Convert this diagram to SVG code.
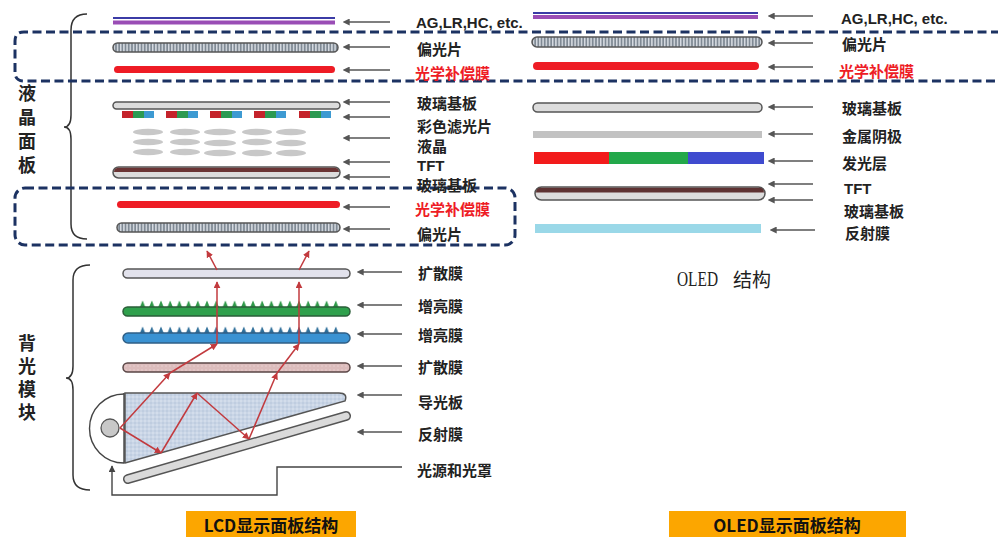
<svg xmlns="http://www.w3.org/2000/svg" width="998" height="537" viewBox="0 0 998 537">
  <style>
    .lbl { font-family: "Noto Sans CJK SC", "Liberation Sans", sans-serif; font-size: 15px; font-weight: bold; fill: #222; dominant-baseline: central; }
    .lat { font-family: "Liberation Sans", "Noto Sans CJK SC", sans-serif; font-size: 15px; font-weight: bold; fill: #222; dominant-baseline: central; }
    .red { fill: #ee1c25; }
    .side { font-family: "Noto Sans CJK SC", "Liberation Sans", sans-serif; font-size: 18px; font-weight: bold; fill: #222; writing-mode: vertical-rl; }
    .cap { font-family: "Noto Sans CJK SC", "Liberation Sans", sans-serif; font-size: 17px; font-weight: bold; fill: #111; text-anchor: middle; dominant-baseline: central; }
    .ptr { stroke: #555; stroke-width: 1.6; fill: none; marker-start: url(#head); }
    .ray { stroke: #c23a3e; stroke-width: 1.5; fill: none; marker-end: url(#rhead); }
    .dash { fill: none; stroke: #1c3262; stroke-width: 3; stroke-dasharray: 9 4.5; }
    .brace { fill: none; stroke: #333; stroke-width: 1.5; }
    .pol { fill: url(#hatch); stroke: #555; stroke-width: 1.5; }
    .redfilm { fill: #ee1c25; }
    .glass { fill: #dcdcdc; stroke: #555; stroke-width: 1.5; }
    .lc { fill: #c8c8c8; }
  </style>
  <defs>
    <marker id="head" viewBox="0 0 10 10" refX="1" refY="5" markerWidth="7" markerHeight="7" markerUnits="userSpaceOnUse" orient="auto-start-reverse">
      <path d="M0,0 L10,5 L0,10 Z" fill="#555"/>
    </marker>
    <marker id="rhead" viewBox="0 0 10 10" refX="9" refY="5" markerWidth="7" markerHeight="7" markerUnits="userSpaceOnUse" orient="auto">
      <path d="M0,0 L10,5 L0,10 Z" fill="#c23a3e"/>
    </marker>
    <marker id="khead" viewBox="0 0 10 10" refX="9" refY="5" markerWidth="7" markerHeight="7" markerUnits="userSpaceOnUse" orient="auto">
      <path d="M0,0 L10,5 L0,10 Z" fill="#444"/>
    </marker>
    <pattern id="hatch" width="3.2" height="12" patternUnits="userSpaceOnUse">
      <rect width="3.2" height="12" fill="#7f8994"/>
      <rect x="1.6" width="1.4" height="12" fill="#d8dde3"/>
    </pattern>
    <pattern id="dots" width="4" height="4" patternUnits="userSpaceOnUse">
      <rect width="4" height="4" fill="#c9d5e6"/>
      <circle cx="1" cy="1" r="0.7" fill="#e6edf6"/>
      <circle cx="3" cy="3" r="0.7" fill="#aebfd6"/>
    </pattern>
    <pattern id="pinkdots" width="4" height="4" patternUnits="userSpaceOnUse">
      <rect width="4" height="4" fill="#dcbcbc"/>
      <circle cx="2" cy="2" r="0.7" fill="#ecd6d6"/>
    </pattern>
    <pattern id="prismG" x="138" y="299" width="9.2" height="9" patternUnits="userSpaceOnUse">
      <path d="M1.5,9 L4.6,1.5 L7.7,9 Z" fill="#2e9848"/>
    </pattern>
    <pattern id="prismB" x="138" y="325" width="9.2" height="9" patternUnits="userSpaceOnUse">
      <path d="M1.5,9 L4.6,1.5 L7.7,9 Z" fill="#2f6f9a"/>
    </pattern>
  </defs>

  <rect width="998" height="537" fill="#ffffff"/>

  <!-- section brackets and titles -->
  <g id="lcd-panel-brace">
    <path class="brace" d="M87,14 Q71,14 71,30 L71,115 Q71,127 64,127 Q71,127 71,139 L71,224 Q71,239 87,239"/>
    <text class="side" x="27" y="84" letter-spacing="6">液晶面板</text>
  </g>
  <g id="backlight-brace">
    <path class="brace" d="M90,265 Q73,265 73,280 L73,366 Q73,378 66,378 Q73,378 73,390 L73,475 Q73,490 90,490"/>
    <text class="side" x="27" y="334" letter-spacing="5">背光模块</text>
  </g>

  <!-- LCD stack -->
  <g id="lcd-ag">
    <rect x="113" y="17" width="222" height="2" fill="#3b3ba6"/>
    <rect x="113" y="20.5" width="222" height="4" fill="#9a4db5"/>
  </g>
  <g id="lcd-polarizer-top"><rect class="pol" x="113" y="43" width="225" height="9" rx="4.5"/></g>
  <g id="lcd-comp-top"><rect class="redfilm" x="114" y="66" width="221" height="7" rx="3.5"/></g>
  <g id="lcd-glass-top"><rect class="glass" x="113" y="102" width="227" height="7" rx="3.5"/></g>
  <g id="lcd-color-filter">
    <rect x="122" y="111" width="11" height="7" fill="#c4232b"/><rect x="133" y="111" width="11" height="7" fill="#2c9a52"/><rect x="144" y="111" width="10" height="7" fill="#3d9ad2"/>
    <rect x="166" y="111" width="11" height="7" fill="#c4232b"/><rect x="177" y="111" width="11" height="7" fill="#2c9a52"/><rect x="188" y="111" width="10" height="7" fill="#3d9ad2"/>
    <rect x="210" y="111" width="11" height="7" fill="#c4232b"/><rect x="221" y="111" width="11" height="7" fill="#2c9a52"/><rect x="232" y="111" width="10" height="7" fill="#3d9ad2"/>
    <rect x="254" y="111" width="11" height="7" fill="#c4232b"/><rect x="265" y="111" width="11" height="7" fill="#2c9a52"/><rect x="276" y="111" width="10" height="7" fill="#3d9ad2"/>
    <rect x="299" y="111" width="11" height="7" fill="#c4232b"/><rect x="310" y="111" width="11" height="7" fill="#2c9a52"/><rect x="321" y="111" width="10" height="7" fill="#3d9ad2"/>
  </g>
  <g id="lcd-liquid-crystal">
    <ellipse class="lc" cx="148" cy="132" rx="15" ry="3.3"/><ellipse class="lc" cx="185" cy="132" rx="15" ry="3.3"/><ellipse class="lc" cx="220" cy="132" rx="16" ry="3.3"/><ellipse class="lc" cx="257" cy="132" rx="15" ry="3.3"/><ellipse class="lc" cx="291" cy="132" rx="15" ry="3.3"/>
    <ellipse class="lc" cx="148" cy="142" rx="15" ry="3.3"/><ellipse class="lc" cx="185" cy="142" rx="15" ry="3.3"/><ellipse class="lc" cx="220" cy="143" rx="16" ry="3.3"/><ellipse class="lc" cx="257" cy="142" rx="15" ry="3.3"/><ellipse class="lc" cx="291" cy="143" rx="15" ry="3.3"/>
    <ellipse class="lc" cx="148" cy="152" rx="15" ry="3.3"/><ellipse class="lc" cx="185" cy="152" rx="15" ry="3.3"/><ellipse class="lc" cx="220" cy="153" rx="16" ry="3.3"/><ellipse class="lc" cx="257" cy="153" rx="15" ry="3.3"/><ellipse class="lc" cx="291" cy="153" rx="15" ry="3.3"/>
  </g>
  <g id="lcd-tft-glass">
    <rect class="glass" x="113" y="167" width="227" height="11" rx="5.5"/>
    <path d="M118,167.8 L335,167.8 Q339,168.5 339,172 L114,172 Q114,168.5 118,167.8 Z" fill="#6a3434"/>
  </g>
  <g id="lcd-comp-bottom"><rect class="redfilm" x="117" y="201" width="223" height="7" rx="3.5"/></g>
  <g id="lcd-polarizer-bottom"><rect class="pol" x="117" y="223" width="223" height="9" rx="4.5"/></g>

  <!-- backlight unit -->
  <g id="bl-diffuser-top"><rect x="123" y="269" width="227" height="9" rx="4.5" fill="#e2e2ec" stroke="#555" stroke-width="1.5"/></g>
  <g id="bl-prism-green">
    <rect x="136" y="299" width="204" height="9" fill="url(#prismG)"/>
    <rect x="123" y="307" width="227" height="9" rx="4.5" fill="#2fa04c" stroke="#2a5e38" stroke-width="1.5"/>
  </g>
  <g id="bl-prism-blue">
    <rect x="136" y="325" width="204" height="9" fill="url(#prismB)"/>
    <rect x="123" y="333" width="227" height="10" rx="5" fill="#3a92d2" stroke="#2f5f86" stroke-width="1.5"/>
  </g>
  <g id="bl-diffuser-bottom"><rect x="123" y="363" width="227" height="9" rx="4.5" fill="url(#pinkdots)" stroke="#5a4646" stroke-width="1.5"/></g>
  <g id="bl-light-guide">
    <path d="M125,393 L339,393 Q348,393 345,401 L125,463 Z" fill="url(#dots)" stroke="#555" stroke-width="1.5"/>
  </g>
  <g id="bl-reflector">
    <line x1="128" y1="479" x2="346" y2="416" stroke="#555" stroke-width="10" stroke-linecap="round"/>
    <line x1="128" y1="479" x2="346" y2="416" stroke="#dadada" stroke-width="7" stroke-linecap="round"/>
  </g>
  <g id="bl-light-source">
    <path d="M124,394 A34.5,34.5 0 0 0 124,463" fill="none" stroke="#444" stroke-width="1.4"/>
    <line x1="124" y1="393" x2="124" y2="463" stroke="#444" stroke-width="1.4"/>
    <circle cx="110" cy="428" r="9" fill="#c8c8c8" stroke="#555" stroke-width="1.3"/>
  </g>

  <!-- OLED stack -->
  <g id="oled-ag">
    <rect x="533" y="12" width="225" height="2" fill="#3b3ba6"/>
    <rect x="533" y="15" width="225" height="4" fill="#9a4db5"/>
  </g>
  <g id="oled-polarizer"><rect class="pol" x="532" y="37" width="230" height="10" rx="5"/></g>
  <g id="oled-comp"><rect class="redfilm" x="533" y="62" width="226" height="8" rx="4"/></g>
  <g id="oled-glass-top"><rect class="glass" x="533" y="103" width="229" height="9" rx="4.5"/></g>
  <g id="oled-cathode"><rect x="533" y="131" width="229" height="7" fill="#c2c2c2"/></g>
  <g id="oled-emissive">
    <rect x="534" y="152" width="75" height="12" fill="#f21b1b"/>
    <rect x="609" y="152" width="79" height="12" fill="#23a84a"/>
    <rect x="688" y="152" width="76" height="12" fill="#3f4bcf"/>
  </g>
  <g id="oled-tft-glass">
    <rect class="glass" x="535" y="187" width="230" height="13" rx="6.5"/>
    <path d="M540,187.8 L760,187.8 Q764,188.5 764,192.5 L536,192.5 Q536,188.5 540,187.8 Z" fill="#5e3232"/>
  </g>
  <g id="oled-reflector"><rect x="535" y="224" width="226" height="9" fill="#9ad8e8"/></g>
  <g id="oled-title">
    <text x="677" y="278" font-family="Liberation Serif, serif" font-size="22" fill="#222" dominant-baseline="central" textLength="41" lengthAdjust="spacingAndGlyphs">OLED</text>
    <text x="733" y="278" font-family="Noto Sans CJK SC, sans-serif" font-size="19" fill="#222" dominant-baseline="central">结构</text>
  </g>

  <!-- connectors: label pointers, light rays, housing outline -->
  <g id="connectors">
    <line class="ptr" x1="349" y1="22" x2="390" y2="22"/>
    <line class="ptr" x1="349" y1="47" x2="390" y2="47"/>
    <line class="ptr" x1="349" y1="70" x2="390" y2="70"/>
    <line class="ptr" x1="349" y1="102" x2="390" y2="102"/>
    <line class="ptr" x1="349" y1="117" x2="390" y2="117"/>
    <line class="ptr" x1="349" y1="138" x2="390" y2="138"/>
    <line class="ptr" x1="349" y1="162" x2="390" y2="162"/>
    <line class="ptr" x1="349" y1="177" x2="390" y2="177"/>
    <line class="ptr" x1="349" y1="207" x2="390" y2="207"/>
    <line class="ptr" x1="349" y1="229" x2="390" y2="229"/>

    <line class="ptr" x1="363" y1="272" x2="402" y2="272"/>
    <line class="ptr" x1="363" y1="305" x2="402" y2="305"/>
    <line class="ptr" x1="363" y1="334" x2="402" y2="334"/>
    <line class="ptr" x1="363" y1="366" x2="402" y2="366"/>
    <line class="ptr" x1="363" y1="395" x2="402" y2="395"/>
    <line class="ptr" x1="363" y1="432" x2="402" y2="432"/>
    <path d="M402,467 L277,467 L277,495 L112,495 L112,466" fill="none" stroke="#444" stroke-width="1.4" marker-end="url(#khead)"/>

    <line class="ptr" x1="774" y1="16" x2="813" y2="16"/>
    <line class="ptr" x1="774" y1="43" x2="813" y2="43"/>
    <line class="ptr" x1="774" y1="67" x2="813" y2="67"/>
    <line class="ptr" x1="774" y1="107" x2="813" y2="107"/>
    <line class="ptr" x1="774" y1="134" x2="813" y2="134"/>
    <line class="ptr" x1="774" y1="161" x2="813" y2="161"/>
    <line class="ptr" x1="774" y1="184" x2="813" y2="184"/>
    <line class="ptr" x1="774" y1="200" x2="813" y2="200"/>
    <line class="ptr" x1="776" y1="230" x2="815" y2="230"/>

    <line class="ray" x1="120" y1="428" x2="170" y2="373"/>
    <line class="ray" x1="170" y1="373" x2="217" y2="344"/>
    <line class="ray" x1="217" y1="344" x2="217" y2="282"/>
    <line class="ray" x1="217" y1="270" x2="207" y2="251"/>
    <line class="ray" x1="120" y1="428" x2="161" y2="453"/>
    <line class="ray" x1="161" y1="453" x2="197" y2="393"/>
    <line class="ray" x1="197" y1="393" x2="249" y2="439"/>
    <line class="ray" x1="249" y1="439" x2="277" y2="373"/>
    <line class="ray" x1="277" y1="373" x2="299" y2="344"/>
    <line class="ray" x1="299" y1="344" x2="299" y2="282"/>
    <line class="ray" x1="299" y1="270" x2="309" y2="251"/>
  </g>

  <!-- dashed callouts for compensation film positions -->
  <g id="callout-top"><path class="dash" d="M1000,32 L24,32 Q15,32 15,41 L15,72 Q15,81 24,81 L1000,81"/></g>
  <g id="callout-bottom"><rect class="dash" x="15" y="188" width="500" height="57" rx="10"/></g>

  <!-- LCD labels -->
  <g id="lcd-labels">
    <text class="lat" x="416" y="22">AG,LR,HC, etc.</text>
    <text class="lbl" x="417" y="48">偏光片</text>
    <text class="lbl red" x="415" y="72">光学补偿膜</text>
    <text class="lbl" x="417" y="102">玻璃基板</text>
    <text class="lbl" x="417" y="125">彩色滤光片</text>
    <text class="lbl" x="417" y="145">液晶</text>
    <text class="lat" x="417" y="165">TFT</text>
    <text class="lbl" x="417" y="184">玻璃基板</text>
    <text class="lbl red" x="415" y="208">光学补偿膜</text>
    <text class="lbl" x="417" y="233">偏光片</text>
  </g>
  <g id="backlight-labels">
    <text class="lbl" x="418" y="272">扩散膜</text>
    <text class="lbl" x="418" y="305">增亮膜</text>
    <text class="lbl" x="418" y="334">增亮膜</text>
    <text class="lbl" x="418" y="366">扩散膜</text>
    <text class="lbl" x="418" y="401">导光板</text>
    <text class="lbl" x="418" y="433">反射膜</text>
    <text class="lbl" x="417" y="469">光源和光罩</text>
  </g>
  <g id="oled-labels">
    <text class="lat" x="841" y="18">AG,LR,HC, etc.</text>
    <text class="lbl" x="842" y="43">偏光片</text>
    <text class="lbl red" x="839" y="70">光学补偿膜</text>
    <text class="lbl" x="842" y="107">玻璃基板</text>
    <text class="lbl" x="842" y="135">金属阴极</text>
    <text class="lbl" x="842" y="162">发光层</text>
    <text class="lat" x="844" y="188">TFT</text>
    <text class="lbl" x="844" y="210">玻璃基板</text>
    <text class="lbl" x="845" y="232">反射膜</text>
  </g>

  <!-- captions -->
  <g id="caption-lcd">
    <rect x="186" y="511" width="170" height="26" fill="#fca600"/>
    <text class="cap" x="271" y="524">LCD显示面板结构</text>
  </g>
  <g id="caption-oled">
    <rect x="669" y="511" width="237" height="26" fill="#fca600"/>
    <text class="cap" x="787" y="524">OLED显示面板结构</text>
  </g>
</svg>
